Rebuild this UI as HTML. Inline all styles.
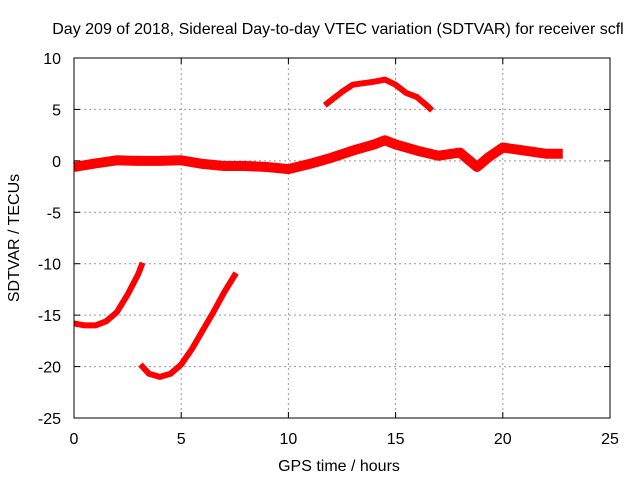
<!DOCTYPE html>
<html><head><meta charset="utf-8"><style>
body{margin:0;background:#fff}
svg text{font-family:"Liberation Sans",sans-serif;font-size:16px;fill:#000}
</style></head><body>
<svg id="c" width="640" height="480" xmlns="http://www.w3.org/2000/svg">
<text x="338" y="34" text-anchor="middle">Day 209 of 2018, Sidereal Day-to-day VTEC variation (SDTVAR) for receiver scfl</text>
<text x="339" y="471" text-anchor="middle">GPS time / hours</text>
<text transform="translate(19,238) rotate(-90)" text-anchor="middle">SDTVAR / TECUs</text>
<g id="grid"></g><g id="ticks"></g><g id="series"></g>
<rect x="74" y="58" width="536" height="360" fill="none" stroke="#000" stroke-width="1"/>
</svg>
<script>
const xTicks=[0,5,10,15,20,25];
const yTicks=[10,5,0,-5,-10,-15,-20,-25];
const mainHours=[0,1,2,3,4,5,6,7,8,9,10,11,12,13,14,14.5,15,16,17,18,18.8,19.3,20,21,22,22.8];
const mainVals=[-0.6,-0.25,0.05,0,0,0.05,-0.3,-0.5,-0.5,-0.6,-0.8,-0.3,0.3,1,1.6,2,1.6,1,0.5,0.8,-0.6,0.3,1.3,1,0.7,0.7];
const arcHours=[11.7,12.5,13,14,14.5,15,15.5,16,16.5,16.7];
const arcVals=[5.4,6.7,7.4,7.7,7.9,7.4,6.6,6.2,5.3,4.9];
const seg1Hours=[0,0.5,1,1.5,2,2.5,3,3.2];
const seg1Vals=[-15.8,-16,-16,-15.6,-14.7,-13,-11,-9.9];
const seg2Hours=[3.1,3.5,4,4.5,5,5.5,6,6.5,7,7.56];
const seg2Vals=[-19.8,-20.7,-21,-20.7,-19.8,-18.3,-16.5,-14.7,-12.8,-10.9];
const X=h=>74+h*536/25, Y=v=>58+(10-v)*360/35;
const NS="http://www.w3.org/2000/svg";
function mk(t,a,p){const e=document.createElementNS(NS,t);for(const k in a)e.setAttribute(k,a[k]);p.appendChild(e);return e;}
const g=document.getElementById('grid'),tk=document.getElementById('ticks'),s=document.getElementById('series');
xTicks.forEach(t=>{
 if(t>0&&t<25){const l=mk('line',{x1:X(t),x2:X(t),y1:58,y2:418,stroke:'#999','stroke-dasharray':'2,3'},g);
 
 }
 mk('line',{x1:X(t),x2:X(t),y1:418,y2:412,stroke:'#000'},tk);
 mk('line',{x1:X(t),x2:X(t),y1:58,y2:64,stroke:'#000'},tk);
 const tx=mk('text',{x:X(t),y:444,'text-anchor':'middle'},tk);tx.textContent=t;
 
 
});
yTicks.forEach(t=>{
 if(t<10&&t>-25){const l=mk('line',{x1:74,x2:610,y1:Y(t),y2:Y(t),stroke:'#999','stroke-dasharray':'2,3'},g);
 
 }
 mk('line',{x1:74,x2:80,y1:Y(t),y2:Y(t),stroke:'#000'},tk);
 mk('line',{x1:610,x2:604,y1:Y(t),y2:Y(t),stroke:'#000'},tk);
 const tx=mk('text',{x:61,y:Y(t)+6,'text-anchor':'end'},tk);tx.textContent=t;
 
 
});
function line(hs,vs,name,w){
 const d=hs.map((h,i)=>(i?'L':'M')+X(h).toFixed(1)+','+Y(vs[i]).toFixed(1)).join('');
 const p=mk('path',{d:d,fill:'none',stroke:'#f00','stroke-width':w,'stroke-linejoin':'round'},s);
 
 
}
line(mainHours,mainVals,'series-main-band',10);
line(arcHours,arcVals,'series-upper-arc',6);
line(seg1Hours,seg1Vals,'series-lower-segment-1',6);
line(seg2Hours,seg2Vals,'series-lower-segment-2',6);
</script>
</body></html>
